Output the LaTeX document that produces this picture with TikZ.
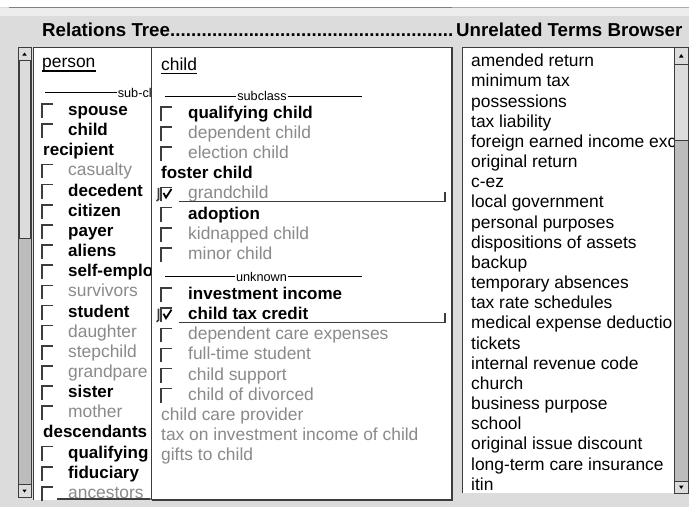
\documentclass[tikz,border=0pt]{standalone}
\usepackage{fontspec}
\setmainfont{Liberation Sans}
\definecolor{panelbg}{RGB}{220,220,220}
\definecolor{itemgray}{RGB}{138,138,138}
\definecolor{stipple}{RGB}{188,188,188}
\definecolor{edge}{RGB}{60,60,60}
\tikzset{
  txt/.style={anchor=base west, inner sep=0pt},
  boldbox/.style={txt, font=\fontsize{17}{20}\selectfont\bfseries},
  boldhead/.style={boldbox},
  graybox/.style={txt, text=itemgray, font=\fontsize{17.4}{20}\selectfont},
  grayhead/.style={graybox},
  plain/.style={txt, font=\fontsize{17.4}{20}\selectfont},
  heading/.style={txt, font=\fontsize{18.7}{22}\selectfont\bfseries},
  seplabel/.style={inner sep=0.6pt, font=\fontsize{12.7}{14}\selectfont},
  sepline/.style={draw=black, line width=0.8pt},
  uline/.style={draw=black, line width=1.2pt},
  cbox/.style={draw=edge, line width=1.6pt},
  tick/.style={draw=black, line width=1.8pt},
  focusline/.style={draw=edge, line width=1.5pt},
  frameline/.style={draw=edge, line width=1.6pt},
  sbar/.style={draw=edge, line width=1pt, fill=panelbg},
  arrowtip/.style={fill=black},
}
\newcommand{\tickrow}[1]{%
  \draw[cbox] (158.5,#1-11) -- (158.5,#1+0.5) -- (156.5,#1+2);
  \draw[tick] (163.5,#1-6) -- (166,#1-1.5) -- (171.5,#1-10);
  \draw[focusline] (179,#1+2.7) -- (445,#1+2.7) -- (445,#1-7);}
\begin{document}
\begin{tikzpicture}[x=1pt,y=-1pt]
\fill[panelbg] (0,0) rectangle (689,507);
\useasboundingbox (0,0) rectangle (689,507);
% top strip
\fill[white] (0,0) rectangle (689,6.5);
\fill[black!7] (0,8.2) rectangle (689,16);
\draw[line width=1.6pt, black!50] (9,7.3) -- (452,7.3);
\draw[line width=1.6pt, black!33] (452,7.3) -- (689,7.3);
% titles
\node[heading] (rtree) at (42,36) {\makebox[411pt][l]{Relations Tree\xleaders\hbox{.}\hfill}};
\node[heading] (ubrowser) at (456,36) {Unrelated Terms Browser};

% left scrollbar
\draw[sbar, fill=stipple] (18.7,47.5) rectangle (31.3,497.5);
\draw[sbar] (18.7,47.5) rectangle (31.3,60.5);
\draw[sbar] (19.5,60.5) rectangle (30.5,238);
\draw[sbar] (18.7,484) rectangle (31.3,497.5);
\fill[arrowtip] (22.3,55.5) -- (26.7,55.5) -- (24.5,52.5) -- cycle;
\fill[arrowtip] (22.3,489.5) -- (26.7,489.5) -- (24.5,492.5) -- cycle;

% tree panel
\fill[white] (33.3,47.3) rectangle (452,500);
\draw[frameline] (33.3,500) -- (33.3,47.3) -- (452,47.3) -- (452,500) -- (152,500);
\draw[edge, line width=0.8pt] (151,47.3) -- (151,500);

% left column
\begin{scope}
\clip (34,48) rectangle (150.6,500.5);
\node[plain] (person) at (42,67.5) {person};
\draw[uline] ([yshift=-3.5pt]person.base west) -- ([yshift=-3.5pt]person.base east);
\node[seplabel, anchor=west] (subcl) at (117,92.7) {sub-cl};
\draw[sepline] (45,92.7) -- (subcl.west);
\foreach \txt/\kind/\bx [count=\i from 0] in {spouse/boldbox/1, child/boldbox/1,
    recipient/boldhead/0, casualty/graybox/1, decedent/boldbox/1, citizen/boldbox/1,
    payer/boldbox/1, aliens/boldbox/1, self-emplo/boldbox/1, survivors/graybox/1,
    student/boldbox/1, daughter/graybox/1, stepchild/graybox/1, grandpare/graybox/1,
    sister/boldbox/1, mother/graybox/1, descendants/boldhead/0, qualifying/boldbox/1,
    fiduciary/boldbox/1, ancestors/graybox/1}{
  \pgfmathsetmacro\yb{115.5+20.15*\i}
  \node[\kind] (lt\i) at (43+25*\bx,\yb) {\txt};
  \ifnum\bx=1 \draw[cbox] (42,\yb+2.5) -- (42,\yb-11.5) -- (53,\yb-11.5); \fi
}
\draw[focusline] (57,499) -- (151,499);
\end{scope}

% right column
\begin{scope}
\clip (152,48) rectangle (451,499);
\node[plain] (child) at (161,70) {child};
\draw[uline] ([yshift=-3.5pt]child.base west) -- ([yshift=-3.5pt]child.base east);
\node[seplabel] (subclass) at (262,96) {subclass};
\draw[sepline] (165,96) -- (subclass.west);
\draw[sepline] (subclass.east) -- (362,96);
\node[seplabel] (unknown) at (261.5,276.7) {unknown};
\draw[sepline] (165,276.7) -- (unknown.west);
\draw[sepline] (unknown.east) -- (362,276.7);
\foreach \r/\txt/\kind/\bx in {0/qualifying child/boldbox/1,
    1/dependent child/graybox/1, 2/election child/graybox/1, 3/foster child/boldhead/0,
    4/grandchild/graybox/1, 5/adoption/boldbox/1, 6/kidnapped child/graybox/1,
    7/minor child/graybox/1, 9/investment income/boldbox/1,
    10/child tax credit/boldbox/1, 11/dependent care expenses/graybox/1,
    12/full-time student/graybox/1, 13/child support/graybox/1, 14/child of divorced/graybox/1,
    15/child care provider/grayhead/0, 16/tax on investment income of child/grayhead/0,
    17/gifts to child/grayhead/0}{
  \pgfmathsetmacro\yb{118.5+20.12*\r}
  \node[\kind] (rt\r) at (161+27*\bx,\yb) {\txt};
  \ifnum\bx=1 \draw[cbox] (161,\yb+2.5) -- (161,\yb-11.5) -- (172,\yb-11.5); \fi
}
\tickrow{198.98}
\tickrow{319.7}
\end{scope}

% browser panel
\fill[white] (462.5,47.3) rectangle (674,493);
\draw[frameline] (462.5,493) -- (462.5,47.3) -- (689,47.3);
\begin{scope}
\clip (463,48) rectangle (674,493);
\foreach \txt [count=\i from 0] in {amended return, minimum tax, possessions,
    tax liability, foreign earned income exc, original return, c-ez,
    local government, personal purposes, dispositions of assets, backup,
    temporary absences, tax rate schedules, medical expense deductio, tickets,
    internal revenue code, church, business purpose, school,
    original issue discount, long-term care insurance, itin}{
  \pgfmathsetmacro\yb{66.7+20.17*\i}
  \node[plain] (ub\i) at (471,\yb) {\txt};
}
\end{scope}

% right scrollbar
\draw[sbar, fill=stipple] (674,47.5) rectangle (688.5,493);
\draw[sbar] (674,47.5) rectangle (688.5,64.5);
\draw[sbar] (674,64.5) rectangle (688.5,140);
\draw[sbar] (674,481) rectangle (688.5,493);
\fill[arrowtip] (679,57.5) -- (683.5,57.5) -- (681.25,54) -- cycle;
\fill[arrowtip] (679,485.5) -- (683.5,485.5) -- (681.25,489) -- cycle;
\end{tikzpicture}
\end{document}
